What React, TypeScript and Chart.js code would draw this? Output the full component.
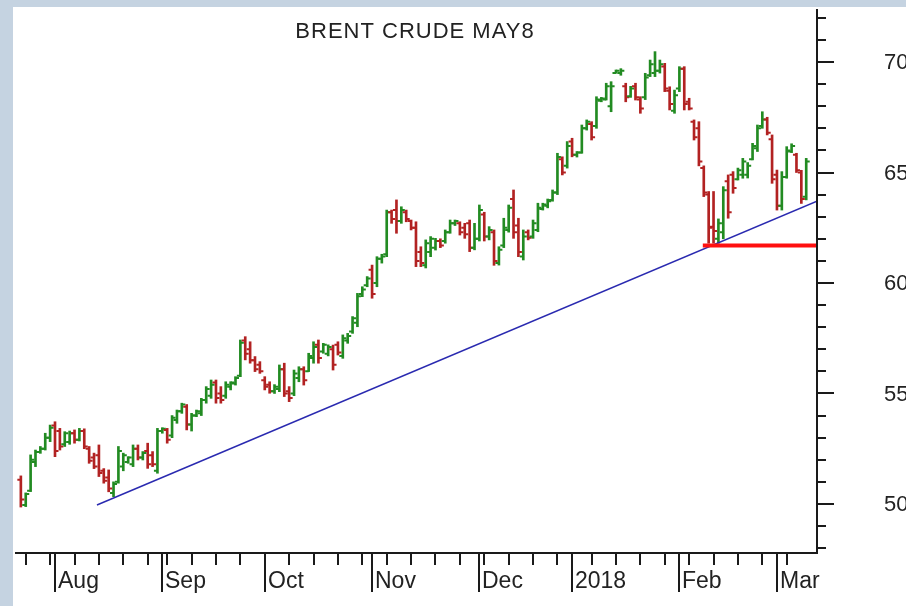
import React, { useEffect, useRef } from 'react';
import { Chart, registerables } from 'chart.js';

Chart.register(...registerables);

const TITLE = 'BRENT CRUDE MAY8';

// x categories: trading-day index 0 = 21 Jul 2017 ... 161 = 9 Mar 2018
const monthLabels = ['Aug', 'Sep', 'Oct', 'Nov', 'Dec', '2018', 'Feb', 'Mar'];
const monthStartIdx = [7, 29, 50, 72, 94, 113, 135, 155];
const weekTickIdx = [1, 6, 11, 16, 21, 26, 30, 35, 40, 45, 50, 55, 60, 65, 70, 75, 80, 85, 90, 95, 100, 105, 110, 113, 117, 122, 127, 132, 137, 142, 147, 152, 157];
const yTickLabels = [50, 55, 60, 65, 70];

const opens = [
  51.1, 49.95, 50.6, 51.9, 52.35, 52.5, 53.0, 53.55, 53.3, 52.7,
  52.8, 53.2, 52.9, 53.3, 52.5, 52.1, 52.2, 51.5, 51.2, 50.5,
  51.0, 51.7, 51.9, 51.8, 52.5, 52.1, 52.4, 52.2, 51.5, 53.3,
  53.35, 53.1, 53.8, 54.2, 54.4, 53.6, 54.0, 54.1, 54.7, 54.9,
  55.5, 55.0, 54.9, 55.3, 55.45, 55.8, 57.4, 57.0, 56.5, 56.3,
  55.6, 55.4, 55.1, 55.2, 56.1, 55.1, 55.0, 55.7, 56.1, 56.0,
  56.6, 57.2, 56.9, 56.8, 57.0, 57.2, 56.7, 57.4, 57.8, 58.2,
  59.5, 59.9, 60.6, 60.0, 61.1, 61.3, 63.2, 63.3, 62.8, 63.2,
  62.8, 62.5, 61.4, 60.8, 61.4, 61.6, 61.9, 61.9, 62.3, 62.7,
  62.7, 62.5, 62.7, 61.6, 62.0, 63.1, 62.1, 62.3, 60.9, 61.7,
  62.4, 63.8, 62.6, 61.2, 62.3, 62.1, 62.4, 63.35, 63.5, 63.75,
  64.1, 65.6, 65.3, 66.4, 65.8, 65.9, 67.0, 67.2, 67.1, 68.25,
  68.3, 68.0, 69.5, 69.5, 68.9, 68.45, 68.9, 68.3, 68.4, 69.4,
  69.5, 69.6, 69.8, 68.7, 67.8, 68.8, 69.7, 68.2, 67.3, 67.0,
  65.2, 64.0, 62.55, 62.0, 62.3, 64.6, 64.9, 64.7, 64.9, 64.9,
  65.6, 66.1, 67.1, 67.4, 66.5, 64.9, 63.5, 64.8, 65.95, 65.8,
  65.0, 63.9
];
const highs = [
  51.27, 50.5, 52.22, 52.44, 52.6, 53.2, 53.57, 53.72, 53.42, 53.27,
  53.3, 53.35, 53.42, 53.4, 52.6, 52.3, 52.67, 51.6, 51.54, 51.0,
  52.6, 52.3, 52.14, 52.67, 52.67, 52.37, 52.75, 52.37, 53.42, 53.45,
  53.42, 54.0, 54.25, 54.56, 54.5, 54.1, 54.25, 54.78, 55.31, 55.61,
  55.61, 55.31, 55.53, 55.53, 55.76, 57.42, 57.57, 57.34, 56.67, 56.44,
  55.76, 55.53, 55.4, 56.29, 56.37, 55.31, 56.06, 56.21, 56.21, 56.82,
  57.34, 57.42, 57.27, 57.2, 57.19, 57.34, 57.65, 57.72, 58.48, 59.53,
  59.83, 60.29, 60.81, 61.19, 61.3, 63.3, 63.3, 63.76, 63.45, 63.3,
  62.85, 62.77, 61.64, 61.95, 62.1, 62.02, 62.0, 62.4, 62.85, 62.85,
  62.77, 62.7, 62.85, 62.7, 63.53, 63.2, 62.55, 62.4, 61.64, 62.93,
  63.53, 64.21, 62.93, 62.4, 62.4, 62.85, 63.61, 63.61, 63.8, 64.21,
  65.87, 65.71, 66.4, 66.55, 65.95, 67.15, 67.38, 67.3, 68.43, 68.4,
  69.04, 69.11, 69.64, 69.7, 69.04, 68.9, 69.04, 68.43, 69.49, 70.09,
  70.47, 70.09, 69.94, 68.88, 68.73, 69.79, 69.79, 68.36, 67.38, 67.3,
  65.3, 64.14, 64.14, 62.9, 64.36, 64.89, 65.04, 65.2, 65.64, 65.45,
  66.32, 67.15, 67.75, 67.5, 66.7, 65.11, 65.04, 66.17, 66.3, 65.87,
  65.1, 65.64
];
const lows = [
  49.86, 49.88, 50.56, 51.69, 52.29, 52.44, 52.82, 52.14, 52.44, 52.6,
  52.7, 52.75, 52.85, 52.5, 51.84, 51.6, 51.24, 50.94, 50.55, 50.33,
  50.94, 51.5, 51.84, 51.69, 51.99, 51.99, 51.61, 51.69, 51.39, 53.2,
  52.75, 53.0, 53.65, 54.1, 53.35, 53.3, 53.95, 54.0, 54.56, 54.78,
  54.56, 54.56, 54.78, 55.16, 55.38, 55.76, 56.52, 56.37, 55.99, 55.91,
  55.16, 55.01, 55.0, 55.08, 54.86, 54.63, 54.9, 55.53, 55.38, 55.99,
  56.37, 56.37, 56.82, 56.7, 56.06, 56.74, 56.59, 57.27, 57.72, 58.02,
  59.38, 59.83, 59.31, 59.83, 60.9, 61.19, 62.7, 62.25, 62.7, 62.77,
  62.4, 60.74, 60.74, 60.68, 61.19, 61.49, 61.6, 61.8, 62.25, 62.6,
  62.17, 62.02, 61.42, 61.5, 61.9, 61.9, 61.95, 60.8, 60.81, 61.6,
  62.3, 62.02, 61.19, 61.04, 61.95, 62.02, 62.32, 63.3, 63.4, 63.7,
  64.0, 64.89, 65.2, 65.71, 65.7, 65.87, 66.92, 66.47, 67.0, 68.2,
  68.28, 67.75, 69.49, 69.4, 68.2, 68.4, 68.28, 67.68, 68.3, 69.34,
  69.34, 69.5, 68.66, 67.83, 67.68, 68.66, 67.83, 67.83, 66.47, 65.3,
  63.91, 61.8, 61.8, 61.8, 62.0, 62.93, 64.06, 64.66, 64.74, 64.75,
  65.57, 65.95, 67.0, 66.7, 64.51, 63.3, 63.3, 64.74, 65.9, 65.0,
  63.6, 63.76
];
const closes = [
  50.2, 50.45, 52.0, 52.35, 52.5, 53.0, 53.45, 52.4, 52.6, 53.2,
  53.2, 52.9, 53.3, 52.6, 51.95, 51.7, 51.4, 51.05, 50.7, 50.9,
  52.4, 52.2, 52.1, 52.5, 52.1, 52.3, 51.8, 51.8, 53.3, 53.4,
  52.9, 53.9, 54.2, 54.5, 53.6, 54.0, 54.2, 54.7, 55.2, 55.4,
  54.8, 54.7, 55.4, 55.5, 55.7, 57.3, 56.8, 56.5, 56.1, 56.0,
  55.3, 55.1, 55.3, 56.1, 55.0, 54.8, 55.9, 56.1, 55.6, 56.7,
  57.1, 56.6, 57.2, 57.1, 56.3, 56.85, 57.5, 57.6, 58.4, 59.4,
  59.7, 60.2, 59.5, 61.1, 61.2, 63.2, 62.9, 62.8, 63.3, 62.9,
  62.5, 61.0, 60.9, 61.8, 62.0, 61.9, 61.7, 62.3, 62.7, 62.8,
  62.3, 62.2, 61.6, 62.0, 63.3, 62.1, 62.4, 61.0, 61.5, 62.5,
  63.4, 62.3, 61.4, 62.1, 62.05, 62.7, 63.4, 63.55, 63.7, 64.1,
  65.7, 65.0, 66.2, 65.8, 65.9, 67.0, 67.3, 66.6, 68.3, 68.35,
  68.9, 68.9, 69.6, 69.6, 68.4, 68.8, 68.4, 67.9, 69.3, 69.9,
  69.6, 69.9, 68.8, 68.1, 68.5, 69.7, 68.1, 67.9, 66.6, 65.5,
  64.1, 62.5, 62.35, 62.7, 64.2, 63.2, 64.3, 65.1, 65.5, 65.3,
  66.2, 67.0, 67.4, 66.8, 64.7, 63.5, 64.8, 66.0, 66.2, 65.1,
  63.8, 65.5
];

const trendLine = [{ x: 15.6, y: 49.95 }, { x: 163.2, y: 63.7 }];
const supportLine = [{ x: 139.8, y: 61.7 }, { x: 163.2, y: 61.7 }];

const X_MIN = -1.61;
const X_MAX = 163.21;
const Y_MIN = 47.78;
const Y_MAX = 72.49;

const UP = '#228b22';
const DOWN = '#b22222';
const AXIS = '#1a1a1a';
const TEXT = '#222222';
const FONT = '"Liberation Sans", Arial, sans-serif';

const barColor = (i: number) => (closes[i] >= opens[i] ? UP : DOWN);

const backgroundPlugin = {
  id: 'bgFrame',
  beforeDraw(chart: any) {
    const { ctx, width, height } = chart;
    ctx.save();
    ctx.fillStyle = '#ffffff';
    ctx.fillRect(0, 0, width, height);
    ctx.fillStyle = '#c5d3e1';
    ctx.fillRect(0, 0, width, 7);
    ctx.fillRect(0, 0, 13, height);
    ctx.restore();
  },
};

const ohlcTickPlugin = {
  id: 'ohlcTicks',
  afterDatasetDraw(chart: any, args: any) {
    if (args.index !== 0) return;
    const { ctx } = chart;
    const xs = chart.scales.x;
    const ys = chart.scales.y;
    ctx.save();
    ctx.lineWidth = 2;
    for (let i = 0; i < opens.length; i++) {
      const px = xs.getPixelForValue(i);
      const po = ys.getPixelForValue(opens[i]);
      const pc = ys.getPixelForValue(closes[i]);
      ctx.strokeStyle = barColor(i);
      ctx.beginPath();
      ctx.moveTo(px - 3.5, po);
      ctx.lineTo(px, po);
      ctx.moveTo(px, pc);
      ctx.lineTo(px + 3.5, pc);
      ctx.stroke();
    }
    ctx.restore();
  },
};

const axesPlugin = {
  id: 'axesDraw',
  afterDraw(chart: any) {
    const { ctx, chartArea: ca } = chart;
    const xs = chart.scales.x;
    const ys = chart.scales.y;
    ctx.save();
    ctx.strokeStyle = AXIS;
    ctx.lineWidth = 2;
    ctx.beginPath();
    ctx.moveTo(ca.right, ca.top + 2);
    ctx.lineTo(ca.right, ca.bottom);
    ctx.lineTo(ca.left + 2, ca.bottom);
    ctx.stroke();

    // y ticks (every 1, major every 5)
    for (let v = Math.ceil(Y_MIN); v <= Math.floor(Y_MAX); v++) {
      const py = Math.round(ys.getPixelForValue(v));
      const len = v % 5 === 0 ? 17 : 9;
      ctx.beginPath();
      ctx.moveTo(ca.right, py);
      ctx.lineTo(ca.right + len, py);
      ctx.stroke();
    }
    ctx.fillStyle = TEXT;
    ctx.font = `22px ${FONT}`;
    ctx.textAlign = 'left';
    ctx.textBaseline = 'middle';
    yTickLabels.forEach((v) => {
      ctx.fillText(String(v), ca.right + 67, ys.getPixelForValue(v) + 1);
    });

    // x weekly ticks
    weekTickIdx.forEach((i) => {
      const px = Math.round(xs.getPixelForValue(i));
      ctx.beginPath();
      ctx.moveTo(px, ca.bottom);
      ctx.lineTo(px, ca.bottom + 12);
      ctx.stroke();
    });
    // month separators + labels
    ctx.font = `23px ${FONT}`;
    ctx.textBaseline = 'alphabetic';
    monthStartIdx.forEach((i, k) => {
      const px = Math.round(xs.getPixelForValue(i));
      ctx.beginPath();
      ctx.moveTo(px, ca.bottom);
      ctx.lineTo(px, ca.bottom + 39);
      ctx.stroke();
      ctx.fillText(monthLabels[k], px + 3, ca.bottom + 35);
    });

    // title
    ctx.font = `22px ${FONT}`;
    (ctx as any).letterSpacing = '1px';
    ctx.textAlign = 'center';
    ctx.fillText(TITLE, (ca.left + ca.right) / 2, 38);
    ctx.restore();
  },
};

export default function App() {
  const ref = useRef<HTMLCanvasElement | null>(null);

  useEffect(() => {
    document.body.style.margin = '0';
    const canvas = ref.current;
    if (!canvas) return;
    const chart = new Chart(canvas, {
      type: 'bar',
      data: {
        datasets: [
          {
            type: 'bar',
            data: highs.map((h, i) => ({ x: i, y: [lows[i], h] })) as any,
            backgroundColor: highs.map((_, i) => barColor(i)),
            borderWidth: 0,
            barThickness: 2,
            order: 3,
          } as any,
          {
            type: 'line',
            data: trendLine as any,
            borderColor: '#2a2ab0',
            borderWidth: 1.5,
            pointRadius: 0,
            tension: 0,
            order: 2,
          } as any,
          {
            type: 'line',
            data: supportLine as any,
            borderColor: '#ff1010',
            borderWidth: 4,
            pointRadius: 0,
            tension: 0,
            order: 1,
          } as any,
        ],
      },
      options: {
        responsive: false,
        animation: false,
        devicePixelRatio: 1,
        events: [],
        layout: { padding: { left: 13, top: 7, right: 89, bottom: 53 } },
        plugins: { legend: { display: false }, tooltip: { enabled: false }, title: { display: false } },
        scales: {
          x: { type: 'linear', min: X_MIN, max: X_MAX, display: false, offset: false },
          y: { type: 'linear', min: Y_MIN, max: Y_MAX, display: false },
        },
      },
      plugins: [backgroundPlugin, ohlcTickPlugin, axesPlugin],
    });
    return () => chart.destroy();
  }, []);

  return (
    <div style={{ width: 906, height: 606 }}>
      <canvas ref={ref} width={906} height={606} style={{ display: 'block' }} />
    </div>
  );
}
